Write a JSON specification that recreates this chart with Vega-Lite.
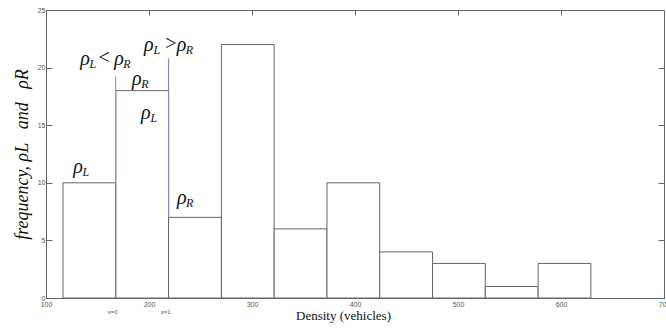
{
  "$schema": "https://vega.github.io/schema/vega-lite/v6.json",
  "autosize": {"type": "none"},
  "padding": {"left": 46, "top": 10, "right": 2, "bottom": 31},
  "width": 618,
  "height": 288,
  "background": "white",
  "config": {
    "view": {"stroke": "#666", "strokeWidth": 1},
    "axis": {"grid": false, "domainColor": "#666", "tickColor": "#666", "labelColor": "#555", "labelFont": "Liberation Sans", "labelFontSize": 7, "titleFont": "Liberation Serif", "titleFontWeight": "normal", "titleColor": "#111"}
  },
  "datasets": {
    "bars": [
      {"lo": 116.5, "hi": 167.8, "f": 10},
      {"lo": 167.8, "hi": 219, "f": 18},
      {"lo": 219, "hi": 270.3, "f": 7},
      {"lo": 270.3, "hi": 321.5, "f": 22},
      {"lo": 321.5, "hi": 372.8, "f": 6},
      {"lo": 372.8, "hi": 424, "f": 10},
      {"lo": 424, "hi": 475.3, "f": 4},
      {"lo": 475.3, "hi": 526.5, "f": 3},
      {"lo": 526.5, "hi": 577.8, "f": 1},
      {"lo": 577.8, "hi": 629, "f": 3}
    ],
    "edges": [
      {"b": 167.6, "y1": 10, "y2": 19.2, "side": "left"},
      {"b": 219, "y1": 7, "y2": 20.8, "side": "right"}
    ],
    "notes": [
      {"x": 131.0, "y": 11.4, "g": "ρ", "s": "L"},
      {"x": 231.8, "y": 8.7, "g": "ρ", "s": "R"},
      {"x": 188.2, "y": 19.0, "g": "ρ", "s": "R"},
      {"x": 196.9, "y": 16.1, "g": "ρ", "s": "L"},
      {"x": 137.8, "y": 20.75, "g": "ρ", "s": "L"},
      {"x": 156.2, "y": 20.8, "g": "<", "s": ""},
      {"x": 170.8, "y": 20.75, "g": "ρ", "s": "R"},
      {"x": 199.8, "y": 21.96, "g": "ρ", "s": "L"},
      {"x": 221.0, "y": 22.05, "g": ">", "s": ""},
      {"x": 231.5, "y": 21.96, "g": "ρ", "s": "R"}
    ],
    "marks": [
      {"x": 164.7, "t": "x=0"},
      {"x": 216.3, "t": "x=1"}
    ]
  },
  "resolve": {"axis": {"x": "independent", "y": "independent"}},
  "layer": [
    {
      "data": {"name": "bars"},
      "mark": {"type": "rect", "fill": "white", "stroke": "#666", "strokeWidth": 1},
      "encoding": {
        "x": {"field": "lo", "type": "quantitative", "scale": {"domain": [100, 700], "nice": false, "zero": false},
              "axis": {"orient": "bottom", "values": [100, 200, 300, 400, 500, 600, 700], "labelFlush": false, "tickSize": -5, "labelPadding": 7, "title": "Density (vehicles)", "titleFontSize": 13, "titlePadding": 2, "titleX": 297}},
        "x2": {"field": "hi"},
        "y": {"field": "f", "type": "quantitative", "scale": {"domain": [0, 25], "nice": false},
              "axis": {"orient": "left", "values": [0, 5, 10, 15, 20, 25], "labelFlush": false, "tickSize": -6, "labelPadding": 7, "title": "frequency,\u00a0ρL\u00a0\u00a0\u00a0and\u00a0\u00a0\u00a0ρR", "titleFontSize": 18, "titleFontStyle": "italic", "titlePadding": 6}},
        "y2": {"datum": 0}
      }
    },
    {
      "data": {"name": "edges"},
      "mark": {"type": "rule", "strokeWidth": 1.2},
      "encoding": {
        "x": {"field": "b", "type": "quantitative", "axis": {"orient": "top", "values": [200, 300, 400, 500, 600], "tickSize": -5, "labels": false, "domain": false, "title": null}},
        "y": {"field": "y1", "type": "quantitative", "axis": {"orient": "right", "values": [5, 10, 15, 20], "tickSize": -6, "labels": false, "domain": false, "title": null}},
        "y2": {"field": "y2"},
        "color": {"field": "side", "type": "nominal", "scale": {"domain": ["left", "right"], "range": ["#e08080", "#8888c0"]}, "legend": null}
      }
    },
    {
      "data": {"name": "notes"},
      "mark": {"type": "text", "font": "Liberation Serif", "fontStyle": "italic", "fontSize": 20, "align": "center", "baseline": "middle", "color": "#111"},
      "encoding": {
        "x": {"field": "x", "type": "quantitative", "axis": null},
        "y": {"field": "y", "type": "quantitative", "axis": null},
        "text": {"field": "g"}
      }
    },
    {
      "data": {"name": "notes"},
      "mark": {"type": "text", "font": "Liberation Serif", "fontStyle": "italic", "fontSize": 12, "align": "center", "baseline": "middle", "dx": 8, "dy": 5, "color": "#111"},
      "encoding": {
        "x": {"field": "x", "type": "quantitative", "axis": null},
        "y": {"field": "y", "type": "quantitative", "axis": null},
        "text": {"field": "s"}
      }
    },
    {
      "data": {"name": "marks"},
      "mark": {"type": "text", "font": "Liberation Sans", "fontSize": 6, "align": "center", "baseline": "middle", "dy": 14, "color": "#555"},
      "encoding": {
        "x": {"field": "x", "type": "quantitative", "axis": null},
        "y": {"datum": 0, "type": "quantitative", "axis": null},
        "text": {"field": "t"}
      }
    }
  ]
}
